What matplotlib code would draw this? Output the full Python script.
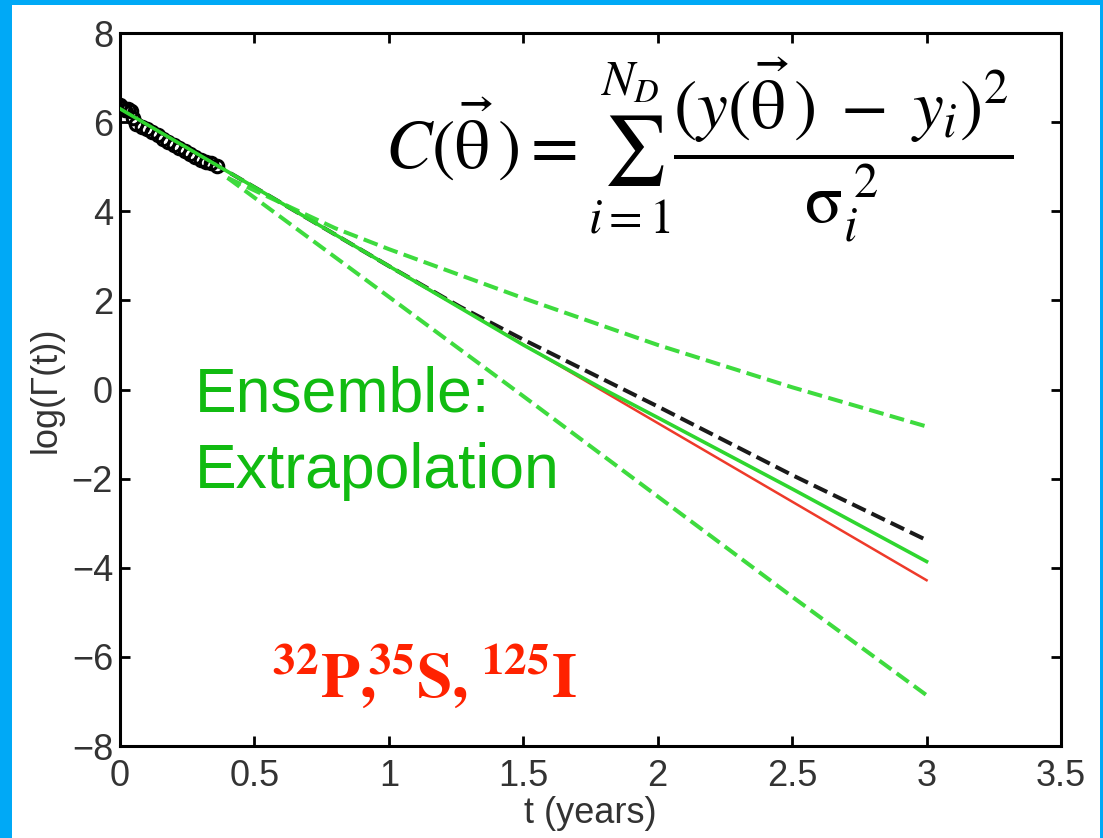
import numpy as np
import matplotlib
matplotlib.use('Agg')
import matplotlib.pyplot as plt
from matplotlib.patches import Rectangle

plt.rcParams['font.family'] = ['Liberation Sans', 'DejaVu Sans']
plt.rcParams['mathtext.fontset'] = 'stix'

# measured data (black circles)
t_data = [0.0, 0.01, 0.02, 0.03, 0.04, 0.05, 0.06, 0.08, 0.10, 0.12, 0.14,
          0.16, 0.18, 0.20, 0.22, 0.24, 0.26, 0.28, 0.30, 0.32, 0.34, 0.36]
y_data = [6.38, 6.32, 6.28, 6.30, 6.25, 6.10, 5.95, 5.90, 5.85, 5.78, 5.70,
          5.62, 5.55, 5.48, 5.42, 5.35, 5.28, 5.22, 5.15, 5.10, 5.08, 5.02]

# red fit (straight)
t_red = [0.0, 3.0]
y_red = [6.30, -4.28]

# green solid (ensemble best)
t_green = [0.0, 0.5, 1.0, 1.5, 1.785, 2.0, 2.5, 3.0]
y_green = [6.30, 4.54, 2.77, 1.00, 0.05, -0.63, -2.23, -3.86]

# black dashed (true curve)
t_true = [0.0, 0.5, 1.0, 1.264, 1.5, 2.0, 2.5, 3.0]
y_true = [6.30, 4.54, 2.77, 1.86, 1.12, -0.38, -1.92, -3.38]

# green dashed envelopes
t_up = [0.4, 0.8, 1.0, 1.5, 2.0, 2.5, 3.0]
y_up = [4.75, 3.62, 3.15, 2.05, 1.00, 0.05, -0.83]
t_lo = [0.4, 1.0, 1.5, 2.0, 2.5, 3.0]
y_lo = [4.75, 2.08, -0.15, -2.40, -4.65, -6.86]

xticks = [0, 0.5, 1, 1.5, 2, 2.5, 3, 3.5]
xticklabels = ['0', '0.5', '1', '1.5', '2', '2.5', '3', '3.5']
yticks = [-8, -6, -4, -2, 0, 2, 4, 6, 8]
yticklabels = ['\u22128', '\u22126', '\u22124', '\u22122', '0', '2', '4', '6', '8']

fig = plt.figure(figsize=(11.03, 8.38), dpi=100)
fig.patch.set_facecolor('#00A9F6')
fig.patches.append(Rectangle((12 / 1103, 0), (1100 - 12) / 1103, 1 - 5 / 838,
                             transform=fig.transFigure, facecolor='white',
                             edgecolor='none', zorder=-10))
ax = fig.add_axes([120 / 1103, 1 - 746 / 838, (1061 - 120) / 1103, (746 - 33) / 838])
ax.set_facecolor('white')

ax.plot(t_true, y_true, '--', color='#1a1a1a', lw=2.9, zorder=2)
ax.plot(t_data, y_data, 'o', mfc='none', mec='black', ms=9, mew=2.2, zorder=3)
ax.plot(t_red, y_red, '-', color='#EE3A2A', lw=1.8, zorder=4)
ax.plot(t_green, y_green, '-', color='#2FD62F', lw=2.6, zorder=5)
ax.plot(t_up, y_up, '--', color='#3EDB3E', lw=2.9, zorder=4)
ax.plot(t_lo, y_lo, '--', color='#3EDB3E', lw=2.9, zorder=4)

ax.set_xlim(0, 3.5)
ax.set_ylim(-8, 8)
ax.set_xticks(xticks)
ax.set_xticklabels(xticklabels)
ax.set_yticks(yticks)
ax.set_yticklabels(yticklabels)
ax.tick_params(direction='in', length=7, width=2, labelsize=26, top=True, right=True,
               colors='black', labelcolor='#333333')
ax.tick_params(axis='x', pad=9)
ax.tick_params(axis='y', pad=5)
for s in ax.spines.values():
    s.set_linewidth(2.2)
ax.set_xlabel('t (years)', fontsize=26, color='#333333', labelpad=2)
ax.set_ylabel('log(\u0393(t))', fontsize=26, color='#333333', labelpad=6)

ax.text(0.279, -2.21, 'Ensemble:\nExtrapolation', color='#11BB11', fontsize=45,
        ha='left', va='baseline', linespacing=1.38)
ax.text(0.565, -6.9,
        r'$^{\mathbf{32}}\mathbf{P}\mathbf{,}\!^{\mathbf{35}}\mathbf{S}\mathbf{,}\;^{\mathbf{125}}\mathbf{I}$',
        color='#FF2200', fontsize=46, ha='left', va='baseline')
ax.text(0.985, 5.37,
        r'$C(\vec{\mathrm{\theta}}\,) = \sum_{i=1}^{N_D}\dfrac{(y(\vec{\mathrm{\theta}}\,)\;-\;y_i)^2}{\mathrm{\sigma}_i^{\;2}}$',
        color='black', fontsize=50, ha='left', va='center')

fig.savefig('out.png', dpi=100, facecolor=fig.get_facecolor())
